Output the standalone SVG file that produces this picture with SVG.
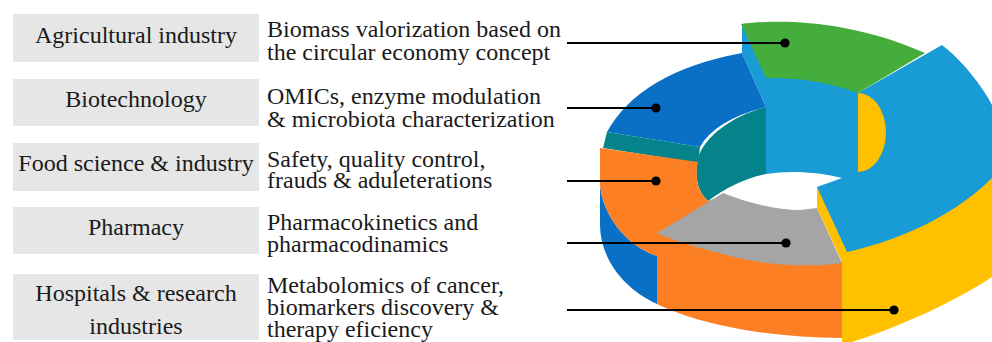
<svg xmlns="http://www.w3.org/2000/svg" width="992" height="342" viewBox="0 0 992 342">
<style>
.box{fill:#e6e6e6}
.lbl{font-family:"Liberation Serif","Times New Roman",serif;font-size:24px;fill:#1a1a1a;text-anchor:middle}
.dsc{font-family:"Liberation Serif","Times New Roman",serif;font-size:24px;fill:#1a1a1a}
.ln{stroke:#000;stroke-width:2.2;fill:none}
.dot{fill:#000}
</style>
<rect width="992" height="342" fill="#fff"/>
<g id="row-agri">
<rect class="box" x="13" y="14" width="246" height="48"/>
<text class="lbl" x="136" y="43">Agricultural industry</text>
<text class="dsc" x="267" y="37">Biomass valorization based on</text>
<text class="dsc" x="267" y="60">the circular economy concept</text>
</g>
<g id="row-biotech">
<rect class="box" x="13" y="79" width="246" height="47"/>
<text class="lbl" x="136" y="107">Biotechnology</text>
<text class="dsc" x="267" y="104">OMICs, enzyme modulation</text>
<text class="dsc" x="267" y="127">&amp; microbiota characterization</text>
</g>
<g id="row-food">
<rect class="box" x="13" y="143" width="246" height="48"/>
<text class="lbl" x="136" y="171">Food science &amp; industry</text>
<text class="dsc" x="267" y="167">Safety, quality control,</text>
<text class="dsc" x="267" y="188">frauds &amp; aduleterations</text>
</g>
<g id="row-pharma">
<rect class="box" x="13" y="207" width="246" height="47"/>
<text class="lbl" x="136" y="235">Pharmacy</text>
<text class="dsc" x="267" y="230">Pharmacokinetics and</text>
<text class="dsc" x="267" y="252">pharmacodinamics</text>
</g>
<g id="row-hosp">
<rect class="box" x="13" y="274" width="246" height="66"/>
<text class="lbl" x="136" y="301">Hospitals &amp; research</text>
<text class="lbl" x="136" y="334">industries</text>
<text class="dsc" x="267" y="293">Metabolomics of cancer,</text>
<text class="dsc" x="267" y="315">biomarkers discovery &amp;</text>
<text class="dsc" x="267" y="337">therapy eficiency</text>
</g>
<g id="donut">
<path id="inner-wall" fill="#05838a" d="M766,107 C735,115 705,135 698,158 C694,178 698,192 708,201 C725,188 745,178 766,174 Z"/>
<path id="seg-blue-top" fill="#0a70c6" d="M607,132 Q640,72 742,53 L766,107 Q715,120 700,147 Z"/>
<path id="seg-blue-cut" fill="#05838a" d="M607,132 L700,147 L698,163 L603,148 Z"/>
<path id="seg-blue-side" fill="#0a70c6" d="M600,185 C603,215 625,245 657,256 L657,304 C620,287 600,255 600,225 Z"/>
<path id="seg-orange" fill="#fd7f23" d="M600,148 L698,162 C694,180 699,193 708,201 L723,196 L730,205 L790,218 L842,262 L842,338 C770,338 700,325 657,304 L657,256 C625,245 603,215 600,185 Z"/>
<path id="seg-grey" fill="#a5a5a5" d="M657,233 L723,193 C745,202 775,210 800,210 L817,208 L842,263 C810,268 760,265 723,254 C695,247 672,240 657,233 Z"/>
<path id="seg-yellow-side" fill="#ffc000" d="M817,187 L817,208 L842,262 L842,342 L852,342 C890,330 950,305 992,277 L992,170 Z"/>
<path id="seg-lightblue" fill="#199bd6" d="M742,25 L742,53 L766,107 L766,174 C790,170 820,172 842,178 L817,187 L847,252 C910,238 960,210 992,178 L992,105 C983,87 962,60 942,45 L858,93 L858,60 Z"/>
<path id="seg-green" fill="#45ad3c" d="M741,24 C780,19 850,20 925,53 L858,93 Q815,77 766,78 Z"/>
<path id="seg-yellow-inner" fill="#ffc000" d="M858,93 A28,39.5 0 0 1 858,172 Z"/>
</g>
<g id="connectors">
<line class="ln" x1="567" y1="43" x2="785" y2="43"/>
<circle class="dot" cx="785" cy="43" r="4.6"/>
<line class="ln" x1="567" y1="108" x2="656" y2="108"/>
<circle class="dot" cx="656" cy="108" r="4.6"/>
<line class="ln" x1="567" y1="181" x2="656" y2="181"/>
<circle class="dot" cx="656" cy="181" r="4.6"/>
<line class="ln" x1="567" y1="243" x2="786" y2="243"/>
<circle class="dot" cx="786" cy="243" r="4.6"/>
<line class="ln" x1="567" y1="310" x2="894" y2="310"/>
<circle class="dot" cx="894" cy="310" r="4.6"/>
</g>
</svg>
